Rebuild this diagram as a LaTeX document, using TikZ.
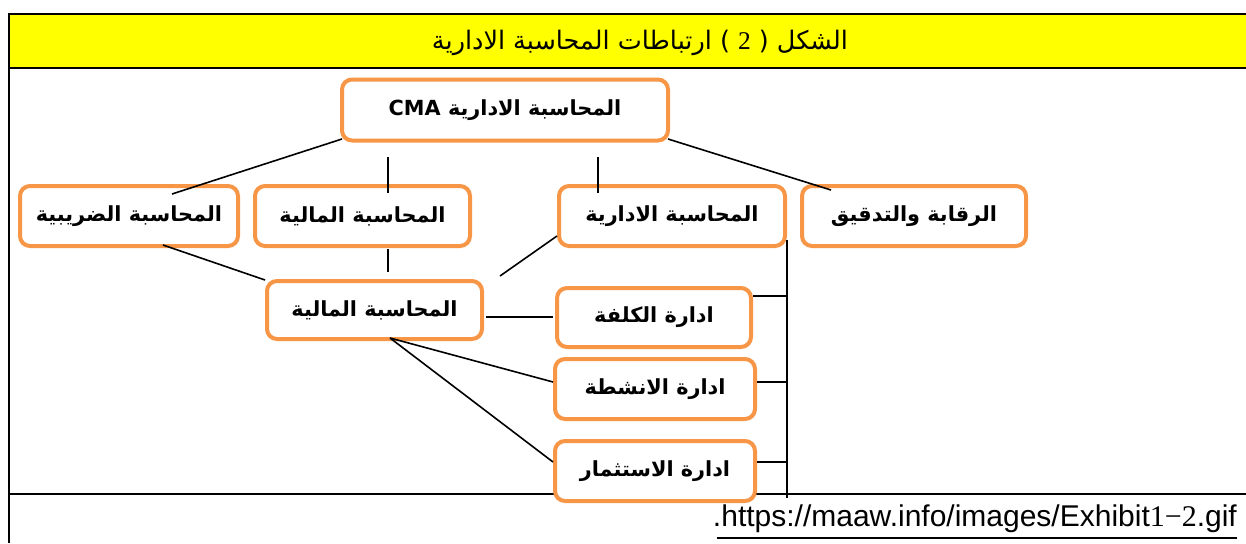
\documentclass[tikz,border=0pt]{standalone}
\usepackage{fontspec}
\setmainfont{Liberation Sans}
\newfontfamily\arabicfont[Script=Arabic]{DejaVu Sans}
\newfontfamily\serifdig{Liberation Serif}
\TeXXeTstate=1
\definecolor{boxorange}{HTML}{F79646}
\definecolor{bandyellow}{HTML}{FFFF00}
\begin{document}
\begin{tikzpicture}[x=1pt,y=-1pt,
  box/.style={draw=boxorange, line width=4pt, rounded corners=10pt, fill=white,
    inner sep=0pt, font=\arabicfont\bfseries\fontsize{20.8}{24}\selectfont},
  link/.style={line width=1.6pt, draw=black},
  frame/.style={line width=2.6pt, draw=black}]
\useasboundingbox (0,0) rectangle (1246,543);
% frame and yellow band
\fill[bandyellow] (9,14) rectangle (1246,68);
\draw[frame] (1246,14) -- (9,14) -- (9,543);
\draw[frame] (9,68) -- (1246,68);
\draw[frame] (9,494) -- (1246,494);
\node (title) at (640,43) {\arabicfont\fontsize{25.5}{30}\selectfont\beginR الشكل ( {\serifdig 2} ) ارتباطات المحاسبة الادارية\endR};
% boxes
\node[box, minimum width=326pt, minimum height=61pt] (cma) at (505,110) {\beginR المحاسبة الادارية \beginL CMA\endL\endR};
\node[box, minimum width=218pt, minimum height=60pt] (tax) at (129,216) {\beginR المحاسبة الضريبية\endR};
\node[box, minimum width=215pt, minimum height=60pt] (fin1) at (362.5,216) {\beginR المحاسبة المالية\endR};
\node[box, minimum width=226pt, minimum height=60pt] (mgmt) at (672,216) {\beginR المحاسبة الادارية\endR};
\node[box, minimum width=224pt, minimum height=60pt] (audit) at (914,216) {\beginR الرقابة والتدقيق\endR};
\node[box, minimum width=215pt, minimum height=58pt] (fin2) at (374.5,310) {\beginR المحاسبة المالية\endR};
\node[box, minimum width=194pt, minimum height=59pt] (cost) at (654,317.5) {\beginR ادارة الكلفة\endR};
\node[box, minimum width=200pt, minimum height=60pt] (act) at (655,389) {\beginR ادارة الانشطة\endR};
\node[box, minimum width=200pt, minimum height=60pt] (inv) at (655,471) {\beginR ادارة الاستثمار\endR};
% connector points
\coordinate (c1a) at (342,139); \coordinate (c1b) at (172,194);
\coordinate (c2a) at (388,157); \coordinate (c2b) at (388,193);
\coordinate (c3a) at (598,157); \coordinate (c3b) at (598,193);
\coordinate (c4a) at (668,139); \coordinate (c4b) at (831,190);
\coordinate (c5a) at (163,245); \coordinate (c5b) at (265,280);
\coordinate (c6a) at (557,236); \coordinate (c6b) at (500,276);
\coordinate (c7a) at (388,249); \coordinate (c7b) at (388,272);
\coordinate (c8a) at (486,317); \coordinate (c8b) at (553,317);
\coordinate (hub) at (390,338);
\coordinate (c9b) at (553,382); \coordinate (c10b) at (553,462);
\coordinate (brtop) at (787,240); \coordinate (brbot) at (787,498);
\coordinate (t1a) at (753,296); \coordinate (t1b) at (787,296);
\coordinate (t2a) at (757,382); \coordinate (t2b) at (787,382);
\coordinate (t3a) at (757,462); \coordinate (t3b) at (787,462);
\draw[link] (c1a) -- (c1b);
\draw[link] (c2a) -- (c2b);
\draw[link] (c3a) -- (c3b);
\draw[link] (c4a) -- (c4b);
\draw[link] (c5a) -- (c5b);
\draw[link] (c6a) -- (c6b);
\draw[link] (c7a) -- (c7b);
\draw[link] (c8a) -- (c8b);
\draw[link] (hub) -- (c9b);
\draw[link] (hub) -- (c10b);
\draw[link] (brtop) -- (brbot);
\draw[link] (t1a) -- (t1b);
\draw[link] (t2a) -- (t2b);
\draw[link] (t3a) -- (t3b);
% footer
\node[anchor=base east, inner sep=0pt, font=\fontsize{30}{34}\selectfont] (src) at (1237,526) {.https://maaw.info/images/Exhibit{\serifdig 1−2}.gif};
\draw[line width=1.6pt] ([xshift=4pt,yshift=-12pt]src.base west) -- ([yshift=-12pt]src.base east);
\end{tikzpicture}
\end{document}
